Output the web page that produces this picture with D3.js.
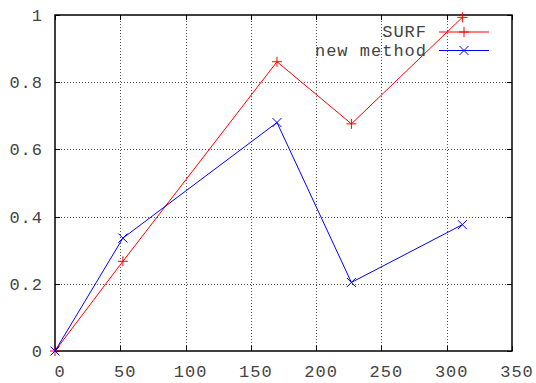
<!DOCTYPE html>
<html>
<head>
<meta charset="utf-8">
<script src="https://cdnjs.cloudflare.com/ajax/libs/d3/7.8.5/d3.min.js"></script>
<style>
  body { margin: 0; background: #fff; }
  text { font-family: "Liberation Mono", "DejaVu Sans Mono", monospace; font-size: 17px; fill: #444; letter-spacing: 1px; }
</style>
</head>
<body>
<svg width="536" height="383"></svg>
<script>
// data
var xValues = [0, 52, 170, 227, 312];
var surfValues = [0, 0.267, 0.861, 0.676, 0.993];
var newMethodValues = [0, 0.336, 0.680, 0.204, 0.376];
var seriesNames = ["SURF", "new method"];
var xTicks = [0, 50, 100, 150, 200, 250, 300, 350];
var yTicks = [0, 0.2, 0.4, 0.6, 0.8, 1];

var svg = d3.select("svg");
var margin = {left: 55, right: 24, top: 15, bottom: 32};
var width = 536 - margin.left - margin.right,
    height = 383 - margin.top - margin.bottom;

var x = d3.scaleLinear().domain([0, 350]).range([margin.left, margin.left + width]);
var y = d3.scaleLinear().domain([0, 1]).range([margin.top + height, margin.top]);

var g = svg.append("g");

// dotted grid
g.selectAll(".vgrid")
  .data(xTicks.filter(function(d){ return d > 0 && d < 350; }))
  .enter().append("line")
  .attr("x1", function(d){ return Math.round(x(d)) + 0.5; })
  .attr("x2", function(d){ return Math.round(x(d)) + 0.5; })
  .attr("y1", y(1)).attr("y2", y(0))
  .attr("stroke", "#555").attr("stroke-width", 1)
  .attr("stroke-dasharray", "1,2");

g.selectAll(".hgrid")
  .data(yTicks.filter(function(d){ return d > 0 && d < 1; }))
  .enter().append("line")
  .attr("y1", function(d){ return Math.round(y(d)) + 0.5; })
  .attr("y2", function(d){ return Math.round(y(d)) + 0.5; })
  .attr("x1", x(0)).attr("x2", x(350))
  .attr("stroke", "#555").attr("stroke-width", 1)
  .attr("stroke-dasharray", "1,2");

// inward ticks on all four sides
var tickLen = 5;
xTicks.forEach(function(d){
  var px = Math.round(x(d)) + 0.5;
  g.append("line").attr("x1", px).attr("x2", px).attr("y1", y(0)).attr("y2", y(0) - tickLen).attr("stroke", "#000");
  g.append("line").attr("x1", px).attr("x2", px).attr("y1", y(1)).attr("y2", y(1) + tickLen).attr("stroke", "#000");
});
yTicks.forEach(function(d){
  var py = Math.round(y(d)) + 0.5;
  g.append("line").attr("y1", py).attr("y2", py).attr("x1", x(0)).attr("x2", x(0) + tickLen).attr("stroke", "#000");
  g.append("line").attr("y1", py).attr("y2", py).attr("x1", x(350)).attr("x2", x(350) - tickLen).attr("stroke", "#000");
});

// border
g.append("rect")
  .attr("x", x(0)).attr("y", y(1))
  .attr("width", x(350) - x(0)).attr("height", y(0) - y(1))
  .attr("fill", "none").attr("stroke", "#000").attr("stroke-width", 1.5);

// tick labels
g.selectAll(".xlab")
  .data(xTicks)
  .enter().append("text")
  .attr("x", function(d){ return x(d) + 5; })
  .attr("y", y(0) + 26)
  .attr("text-anchor", "middle")
  .text(function(d){ return d; });

g.selectAll(".ylab")
  .data(yTicks)
  .enter().append("text")
  .attr("x", x(0) - 12)
  .attr("y", function(d){ return y(d) + 6; })
  .attr("text-anchor", "end")
  .text(function(d){ return d; });

// series
var series = [
  {name: seriesNames[0], values: surfValues, color: "#ff0000", marker: "plus"},
  {name: seriesNames[1], values: newMethodValues, color: "#0000ff", marker: "cross"}
];

var line = d3.line()
  .x(function(d){ return x(d[0]); })
  .y(function(d){ return y(d[1]); });

var markerPath = function(type, cx, cy, r){
  if (type == "plus")
    return "M" + (cx - r) + "," + cy + "H" + (cx + r) + "M" + cx + "," + (cy - r) + "V" + (cy + r);
  return "M" + (cx - r) + "," + (cy - r) + "L" + (cx + r) + "," + (cy + r) +
         "M" + (cx - r) + "," + (cy + r) + "L" + (cx + r) + "," + (cy - r);
};

series.forEach(function(s, i){
  var pts = xValues.map(function(xv, j){ return [xv, s.values[j]]; });
  g.append("path")
    .attr("d", line(pts))
    .attr("fill", "none")
    .attr("stroke", s.color)
    .attr("stroke-width", 1);
  g.selectAll(".m" + i)
    .data(pts)
    .enter().append("path")
    .attr("d", function(d){ return markerPath(s.marker, x(d[0]), y(d[1]), s.marker == "plus" ? 5 : 4.5); })
    .attr("stroke", s.color)
    .attr("stroke-width", 1)
    .attr("fill", "none");

  // legend
  var ly = 32 + i * 18.5;
  g.append("text")
    .attr("x", 427).attr("y", ly + 5)
    .attr("text-anchor", "end")
    .text(s.name);
  g.append("line")
    .attr("x1", 439).attr("x2", 489)
    .attr("y1", ly).attr("y2", ly)
    .attr("stroke", s.color);
  g.append("path")
    .attr("d", markerPath(s.marker, 464, ly, s.marker == "plus" ? 5 : 4.5))
    .attr("stroke", s.color)
    .attr("fill", "none");
});
</script>
</body>
</html>
